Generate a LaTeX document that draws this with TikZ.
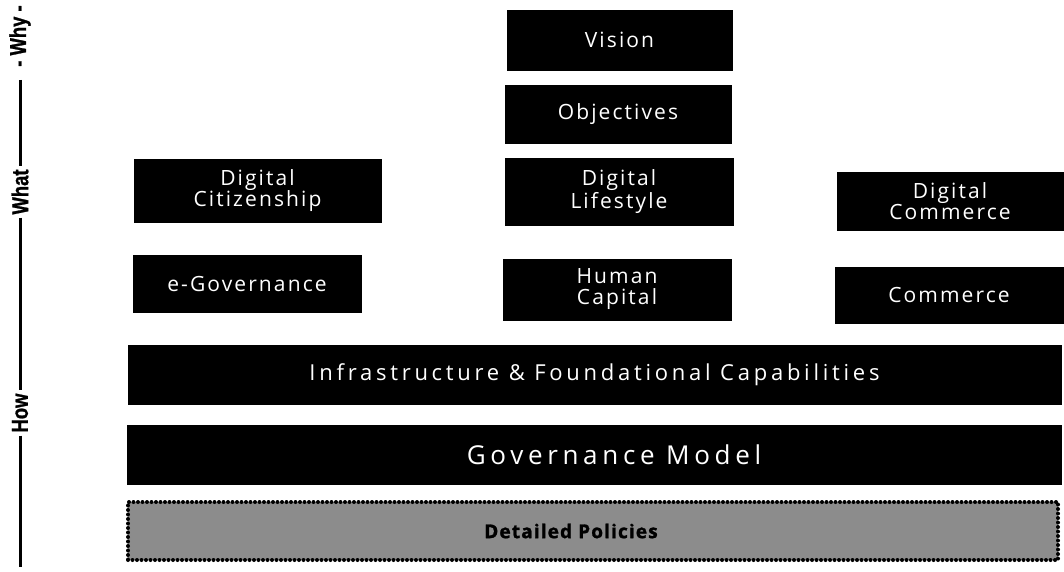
\documentclass[tikz,border=0pt]{standalone}
\usepackage{fontspec}
\setmainfont{Open Sans}
\newfontfamily\boxfont[LetterSpace=10]{Open Sans}
\newfontfamily\barfont[LetterSpace=17]{Open Sans}
\newfontfamily\govfont[LetterSpace=18]{Open Sans}
\newfontfamily\heavyfont[LetterSpace=6, BoldFeatures={FakeBold=1.5}]{Open Sans}
\newfontfamily\axisfont[FakeStretch=0.8, BoldFeatures={FakeBold=1}]{Liberation Sans}

\tikzset{
  layer/.style={draw=black, fill=black, text=white, inner sep=0pt,
    font=\boxfont\fontsize{21}{21}\selectfont, align=center},
  bar/.style={layer, font=\barfont\fontsize{22}{22}\selectfont},
  policybox/.style={draw=black, dash pattern=on 0pt off 4.5pt, line cap=round,
    line width=4pt, fill=black!45,
    text=black, inner sep=0pt, font=\heavyfont\bfseries\fontsize{19}{20}\selectfont},
  axislabel/.style={rotate=90, inner sep=3pt, font=\axisfont\bfseries\fontsize{23}{24}\selectfont}
}

\begin{document}
\begin{tikzpicture}[x=1pt, y=-1pt]
\useasboundingbox (0,0) rectangle (1064,571);

% top of the stack
\node[layer, minimum width=225pt, minimum height=60pt] at (619.5,40) (vision) {Vision};
\node[layer, minimum width=226pt, minimum height=58pt] at (618,114) (obj) {Objectives};

% what row
\node[layer, minimum width=247pt, minimum height=63pt] at (257.5,190.5) (digCit) {Digital\\Citizenship};
\node[layer, minimum width=228pt, minimum height=67pt] at (619,191.5) (digLife) {Digital\\Lifestyle};
\node[layer, minimum width=226pt, minimum height=58pt] at (950,201) (digCom) {Digital\\Commerce};

% how row
\node[layer, minimum width=228pt, minimum height=57pt] at (247,283.5) (eGov) {e-Governance};
\node[layer, minimum width=228pt, minimum height=61pt] at (617,289.5) (humCap) {Human\\Capital};
\node[layer, minimum width=228pt, minimum height=56pt] at (949,295) (comm) {Commerce};

% foundations
\node[bar, minimum width=933pt, minimum height=59pt] at (594.5,374.5) (infra) {Infrastructure \& Foundational Capabilities};
\node[bar, minimum width=934pt, minimum height=59pt, font=\govfont\fontsize{26}{26}\selectfont] at (594,454.5) (govModel) {\hspace*{40pt}Governance Model};
\node[policybox, minimum width=930pt, minimum height=58pt] at (593,531) (policies) {Detailed Policies\hspace*{44pt}};

% why / what / how axis
\node[axislabel] at (20,36) (why) {- Why -};
\node[axislabel] at (20,192) (what) {What};
\node[axislabel] at (20,413) (how) {How};
\coordinate (axisEnd) at (20,567);

\draw[line width=3pt] (why.west) ++(0,10) -- (what.east);
\draw[line width=3pt] (what.west) -- (how.east);
\draw[line width=3pt] (how.west) -- (axisEnd);

\end{tikzpicture}
\end{document}
